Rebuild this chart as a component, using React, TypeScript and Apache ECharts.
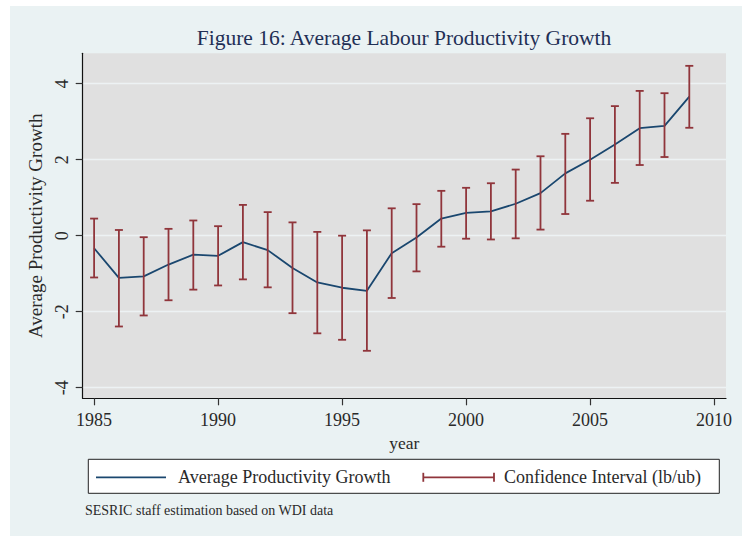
import React, { useEffect, useRef } from "react";
import * as echarts from "echarts";

// Average labour productivity growth with confidence interval bounds, 1985-2009
const years = [1985, 1986, 1987, 1988, 1989, 1990, 1991, 1992, 1993, 1994, 1995, 1996, 1997, 1998, 1999, 2000, 2001, 2002, 2003, 2004, 2005, 2006, 2007, 2008, 2009];
const growth = [-0.33, -1.11, -1.07, -0.76, -0.5, -0.53, -0.17, -0.38, -0.85, -1.23, -1.37, -1.45, -0.46, -0.05, 0.45, 0.6, 0.64, 0.84, 1.12, 1.64, 2.0, 2.4, 2.83, 2.89, 3.66];
const upper = [0.45, 0.15, -0.04, 0.18, 0.4, 0.25, 0.81, 0.62, 0.35, 0.1, 0.0, 0.14, 0.72, 0.83, 1.18, 1.26, 1.38, 1.74, 2.09, 2.68, 3.09, 3.41, 3.81, 3.75, 4.47];
const lower = [-1.1, -2.39, -2.1, -1.7, -1.42, -1.31, -1.15, -1.36, -2.04, -2.57, -2.74, -3.03, -1.64, -0.94, -0.29, -0.08, -0.1, -0.07, 0.16, 0.57, 0.92, 1.39, 1.86, 2.07, 2.84];
const xTicks = [1985, 1990, 1995, 2000, 2005, 2010];
const yTicks = [-4, -2, 0, 2, 4];

const TITLE = "Figure 16: Average Labour Productivity Growth";
const LINE_NAME = "Average Productivity Growth";
const CI_NAME = "Confidence Interval (lb/ub)";
const NOTE = "SESRIC staff estimation based on WDI data";

const SERIF = "'Liberation Serif', 'Times New Roman', serif";
const NAVY = "#1a476f";
const MAROON = "#90353b";
const TEXT = "#2a2a2a";

export default function App() {
  const ref = useRef<HTMLDivElement>(null);

  useEffect(() => {
    if (!ref.current) return;
    const chart = echarts.init(ref.current, undefined, { renderer: "svg" });

    const linePoints = years.map((y, i) => [y, growth[i]]);
    const ciPoints = years.map((y, i) => [y, lower[i], upper[i]]);

    const legendY = 477.3;

    chart.setOption({
      animation: false,
      backgroundColor: "#ffffff",
      textStyle: { fontFamily: SERIF },
      grid: {
        left: 82.7,
        top: 53.3,
        right: 16,
        bottom: 137.7,
        show: true,
        backgroundColor: "#e0e0e0",
        borderWidth: 0,
        containLabel: false,
      },
      xAxis: {
        type: "value",
        min: 1984.54,
        max: 2010.48,
        name: "year",
        nameLocation: "middle",
        nameGap: 32,
        nameTextStyle: { fontFamily: SERIF, fontSize: 17.5, color: TEXT },
        axisLine: { show: true, onZero: false, lineStyle: { color: "#111", width: 1.2 } },
        axisTick: { show: true, length: 7, customValues: xTicks, lineStyle: { color: "#333", width: 1.2 } },
        axisLabel: {
          customValues: xTicks,
          formatter: (v: number) => String(v),
          fontFamily: SERIF,
          fontSize: 18,
          color: TEXT,
          margin: 13,
        },
        splitLine: { show: false },
      },
      yAxis: {
        type: "value",
        min: -4.28,
        max: 4.8,
        name: "Average Productivity Growth",
        nameLocation: "middle",
        nameGap: 31,
        nameRotate: 90,
        nameTextStyle: { fontFamily: SERIF, fontSize: 19, color: TEXT },
        axisLine: { show: true, onZero: false, lineStyle: { color: "#111", width: 1.2 } },
        axisTick: { show: true, length: 7, customValues: yTicks, lineStyle: { color: "#333", width: 1.2 } },
        axisLabel: {
          customValues: yTicks,
          formatter: (v: number) => String(v),
          rotate: 90,
          fontFamily: SERIF,
          fontSize: 18,
          color: TEXT,
          margin: 12,
        },
        splitLine: { show: true, lineStyle: { color: "#edf2f4", width: 1.3 } },
      },
      graphic: [
        {
          type: "rect",
          z: -10,
          silent: true,
          shape: { x: 10, y: 6, width: 732, height: 530 },
          style: { fill: "#eaf2f3" },
        },
        {
          type: "text",
          x: 404,
          y: 38.3,
          style: {
            text: TITLE,
            fill: "#1f2f55",
            font: `21.5px ${SERIF}`,
            textAlign: "center",
            textVerticalAlign: "middle",
          },
        },
        {
          type: "rect",
          shape: { x: 88.3, y: 459.3, width: 631, height: 34 },
          style: { fill: "#ffffff", stroke: "#222", lineWidth: 1 },
        },
        {
          type: "line",
          shape: { x1: 96, y1: legendY, x2: 166, y2: legendY },
          style: { stroke: NAVY, lineWidth: 1.8 },
        },
        {
          type: "text",
          x: 178,
          y: legendY,
          style: { text: LINE_NAME, fill: TEXT, font: `18px ${SERIF}`, textVerticalAlign: "middle" },
        },
        {
          type: "line",
          shape: { x1: 423.3, y1: legendY, x2: 494, y2: legendY },
          style: { stroke: MAROON, lineWidth: 1.8 },
        },
        {
          type: "line",
          shape: { x1: 423.3, y1: legendY - 4.5, x2: 423.3, y2: legendY + 4.5 },
          style: { stroke: MAROON, lineWidth: 1.8 },
        },
        {
          type: "line",
          shape: { x1: 494, y1: legendY - 4.5, x2: 494, y2: legendY + 4.5 },
          style: { stroke: MAROON, lineWidth: 1.8 },
        },
        {
          type: "text",
          x: 504,
          y: legendY,
          style: { text: CI_NAME, fill: TEXT, font: `18px ${SERIF}`, textVerticalAlign: "middle" },
        },
        {
          type: "text",
          x: 85,
          y: 510.7,
          style: { text: NOTE, fill: TEXT, font: `14px ${SERIF}`, textVerticalAlign: "middle" },
        },
      ],
      series: [
        {
          name: LINE_NAME,
          type: "line",
          data: linePoints,
          symbol: "none",
          lineStyle: { color: NAVY, width: 1.8 },
          z: 2,
        },
        {
          name: CI_NAME,
          type: "custom",
          data: ciPoints,
          z: 3,
          renderItem: (_params: any, api: any) => {
            const x = api.value(0);
            const lo = api.coord([x, api.value(1)]);
            const hi = api.coord([x, api.value(2)]);
            const cap = 4;
            const style = { stroke: MAROON, lineWidth: 1.8 };
            return {
              type: "group",
              children: [
                { type: "line", shape: { x1: lo[0], y1: lo[1], x2: hi[0], y2: hi[1] }, style },
                { type: "line", shape: { x1: hi[0] - cap, y1: hi[1], x2: hi[0] + cap, y2: hi[1] }, style },
                { type: "line", shape: { x1: lo[0] - cap, y1: lo[1], x2: lo[0] + cap, y2: lo[1] }, style },
              ],
            };
          },
        },
      ],
    });

    return () => chart.dispose();
  }, []);

  return (
    <div
      ref={ref}
      style={{ position: "fixed", left: 0, top: 0, width: 742, height: 536 }}
    />
  );
}
